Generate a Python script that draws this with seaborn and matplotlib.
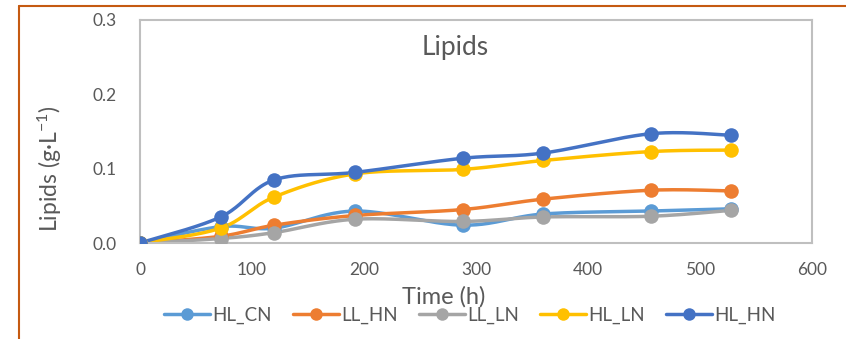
import numpy as np
import pandas as pd
import matplotlib
matplotlib.use("Agg")
import matplotlib.pyplot as plt
from matplotlib.lines import Line2D
import seaborn as sns

# Sampling times (h)
time_h = [0, 72, 120, 192, 288, 360, 456, 528]

# Lipid concentration (g/L) per culture condition
hl_cn = [0.0, 0.022, 0.020, 0.043, 0.024, 0.039, 0.043, 0.046]
ll_hn = [0.0, 0.009, 0.024, 0.037, 0.045, 0.059, 0.071, 0.070]
ll_ln = [0.0, 0.006, 0.014, 0.032, 0.029, 0.035, 0.036, 0.044]
hl_ln = [0.0, 0.020, 0.062, 0.093, 0.099, 0.111, 0.123, 0.125]
hl_hn = [0.0, 0.035, 0.085, 0.095, 0.114, 0.121, 0.147, 0.145]

series_names = ["HL_CN", "LL_HN", "LL_LN", "HL_LN", "HL_HN"]
series_values = [hl_cn, ll_hn, ll_ln, hl_ln, hl_hn]
series_colors = ["#5B9BD5", "#ED7D31", "#A5A5A5", "#FFC000", "#4472C4"]

TEXT = "#595959"
FONT = "Lato"


def smooth_curve(x, y, n=40):
    """Cubic Bezier smoothing through every point (Catmull-Rom style)."""
    x = np.asarray(x, float)
    y = np.asarray(y, float)
    px = np.concatenate([[x[0]], x, [x[-1]]])
    py = np.concatenate([[y[0]], y, [y[-1]]])
    xs, ys = [], []
    t = np.linspace(0, 1, n)
    for i in range(1, len(px) - 2):
        p1 = np.array([px[i], py[i]])
        p2 = np.array([px[i + 1], py[i + 1]])
        p0 = np.array([px[i - 1], py[i - 1]])
        p3 = np.array([px[i + 2], py[i + 2]])
        c1 = p1 + (p2 - p0) / 6.0
        c2 = p2 - (p3 - p1) / 6.0
        b = ((1 - t) ** 3)[:, None] * p1 + (3 * (1 - t) ** 2 * t)[:, None] * c1 \
            + (3 * (1 - t) * t ** 2)[:, None] * c2 + (t ** 3)[:, None] * p2
        xs.append(b[:, 0])
        ys.append(b[:, 1])
    return np.concatenate(xs), np.concatenate(ys)


sns.set_theme(style="white")
plt.rcParams["font.family"] = [FONT, "DejaVu Sans"]
plt.rcParams["mathtext.fontset"] = "custom"
plt.rcParams["mathtext.rm"] = FONT
plt.rcParams["mathtext.it"] = FONT

fig = plt.figure(figsize=(8.46, 3.39), dpi=100)
fig.patch.set_facecolor("white")
ax = fig.add_axes([140 / 846, 1 - 243 / 339, (812 - 140) / 846, (243 - 20) / 339])

points = pd.DataFrame({
    "time": np.tile(time_h, len(series_names)),
    "lipids": np.concatenate(series_values),
    "series": np.repeat(series_names, len(time_h)),
})

for name, color in zip(series_names, series_colors):
    sub = points[points["series"] == name]
    sx, sy = smooth_curve(sub["time"], sub["lipids"])
    curve = pd.DataFrame({"time": sx, "lipids": sy})
    sns.lineplot(data=curve, x="time", y="lipids", sort=False, estimator=None,
                 color=color, linewidth=2.5, ax=ax, solid_capstyle="round")
    sns.scatterplot(data=sub, x="time", y="lipids", color=color, s=110,
                    edgecolor=color, linewidth=0, ax=ax, zorder=3)

ax.set_xlim(0, 600)
ax.set_ylim(0, 0.3)
ax.set_xticks(range(0, 601, 100))
ax.set_yticks([0.0, 0.1, 0.2, 0.3])
ax.set_yticklabels(["0.0", "0.1", "0.2", "0.3"])
ax.tick_params(axis="both", length=0, labelsize=12.5, colors=TEXT)
ax.tick_params(axis="y", pad=17)
ax.tick_params(axis="x", pad=14)
ax.set_xlabel("")
ax.set_ylabel("")
for side in ["left", "bottom", "top", "right"]:
    ax.spines[side].set_visible(True)
    ax.spines[side].set_color("#BFBFBF")
    ax.spines[side].set_linewidth(1.5)

fig.text(455 / 846, 1 - 47 / 339, "Lipids", ha="center", va="center",
         fontsize=19, color=TEXT)
fig.text(444 / 846, 1 - 297 / 339, "Time (h)", ha="center", va="center",
         fontsize=17, color=TEXT)
fig.text(50 / 846, 1 - 169 / 339, r"Lipids (g·L$^{-1}$)", ha="center", va="center",
         rotation=90, fontsize=16.5, color=TEXT)

handles = [Line2D([0], [0], color=c, linewidth=2.5, marker="o", markersize=9,
                  markeredgewidth=0) for c in series_colors]
leg = fig.legend(handles, series_names, loc="center", ncol=5, frameon=False,
                 bbox_to_anchor=(470 / 846, 1 - 315 / 339), fontsize=13.5,
                 handlelength=2.45, handletextpad=0.15, columnspacing=1.1)
for t in leg.get_texts():
    t.set_color(TEXT)

# Chart frame edges along the top and left
fig.add_artist(Line2D([19 / 846, 19 / 846], [0, 1 - 6 / 339], transform=fig.transFigure,
                      color="#C55A11", linewidth=1.5))
fig.add_artist(Line2D([19 / 846, 1], [1 - 6 / 339, 1 - 6 / 339], transform=fig.transFigure,
                      color="#C55A11", linewidth=1.5))

fig.savefig("out.png", dpi=100, facecolor="white")
